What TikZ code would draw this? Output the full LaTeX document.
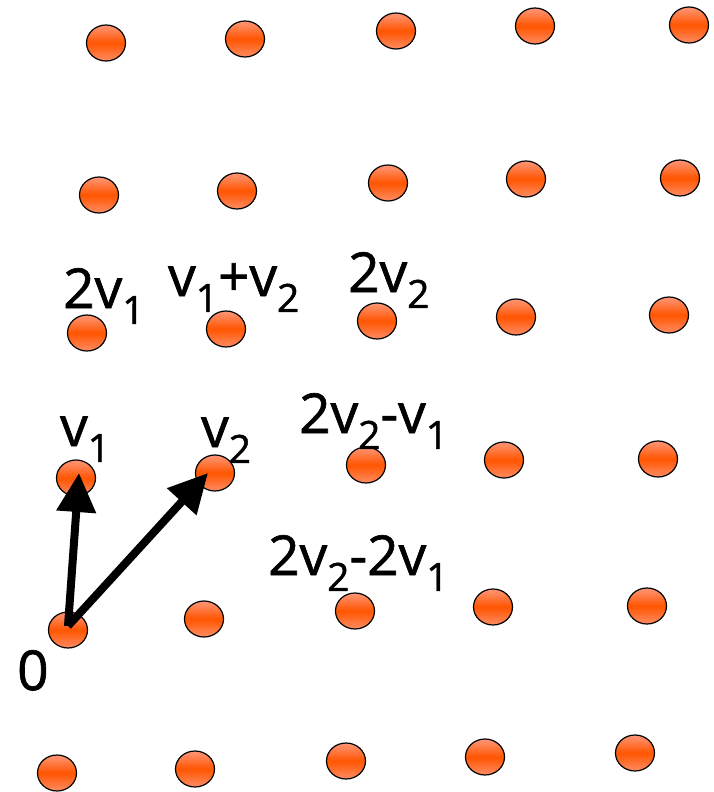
\documentclass[tikz,border=0pt]{standalone}
\usepackage{fontspec}
\setmainfont{Open Sans}[FakeBold=1.2]
\usetikzlibrary{shapes.geometric,arrows.meta}
\definecolor{dottop}{RGB}{255,150,120}
\definecolor{dotmid}{RGB}{255,85,0}
\definecolor{dotbot}{RGB}{255,140,100}
\newcommand{\lsb}[1]{\raisebox{-0.29em}{\fontsize{39}{41}\selectfont #1}}
\tikzset{
  dot/.style={ellipse, draw=black, line width=1.2pt, minimum width=39pt, minimum height=36pt, inner sep=0pt,
    top color=dottop, bottom color=dotbot, middle color=dotmid},
  lbl/.style={anchor=base west, inner sep=0pt, font=\fontsize{55}{59}\selectfont},
  vec/.style={line width=8pt, -{Triangle[length=39pt,width=38pt]}}
}
\begin{document}
\begin{tikzpicture}[x=1pt,y=-1pt]
\useasboundingbox (0,0) rectangle (713,792);
% row 1
\node[dot] (a1) at (106,43) {};
\node[dot] (a2) at (245,39) {};
\node[dot] (a3) at (396,31) {};
\node[dot] (a4) at (535,26) {};
\node[dot] (a5) at (689,25) {};
% row 2
\node[dot] (b1) at (99,195) {};
\node[dot] (b2) at (237,191) {};
\node[dot] (b3) at (388,183) {};
\node[dot] (b4) at (526,179) {};
\node[dot] (b5) at (680,178) {};
% row 3
\node[dot] (c1) at (87,333) {};
\node[dot] (c2) at (226,329) {};
\node[dot] (c3) at (377,321) {};
\node[dot] (c4) at (516,317) {};
\node[dot] (c5) at (669,315) {};
% row 4
\node[dot] (v1) at (76,478) {};
\node[dot] (v2) at (215,473) {};
\node[dot] (d3) at (366,465) {};
\node[dot] (d4) at (504,460) {};
\node[dot] (d5) at (658,459) {};
% row 5
\node[dot] (o) at (68,630) {};
\node[dot] (e2) at (204,619) {};
\node[dot] (e3) at (355,611) {};
\node[dot] (e4) at (493,607) {};
\node[dot] (e5) at (647,606) {};
% row 6
\node[dot] (f1) at (57,773) {};
\node[dot] (f2) at (195,769) {};
\node[dot] (f3) at (346,761) {};
\node[dot] (f4) at (485,757) {};
\node[dot] (f5) at (635,753) {};
% arrows
\draw[vec] ([yshift=4pt]o.center) -- ([xshift=3pt,yshift=5pt]v1.center);
\draw[vec] ([yshift=4pt]o.center) -- ([xshift=-7pt]v2.center);
% labels
\node[lbl] (l2v1) at (63,308) {2v\lsb{1}};
\node[lbl] (lsum) at (168,296) {v\lsb{1}+v\lsb{2}};
\node[lbl] (l2v2) at (348,292) {2v\lsb{2}};
\node[lbl] (lv1) at (60,446) {v\lsb{1}};
\node[lbl] (lv2) at (201,447) {v\lsb{2}};
\node[lbl] (ld1) at (299,433) {2v\lsb{2}-v\lsb{1}};
\node[lbl] (ld2) at (268,575) {2v\lsb{2}-2v\lsb{1}};
\node[lbl] (l0) at (17,690) {0};
\end{tikzpicture}
\end{document}
